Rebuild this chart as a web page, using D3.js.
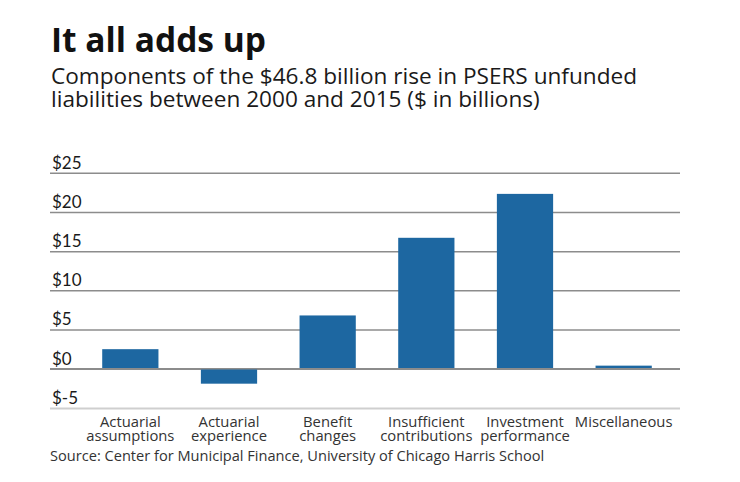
<!DOCTYPE html>
<html>
<head>
<meta charset="utf-8">
<script src="https://cdn.jsdelivr.net/npm/d3@7"></script>
<style>
  body { margin: 0; background: #fff; }
  svg { font-family: "Open Sans", Lato, sans-serif; }
</style>
</head>
<body>
<svg id="chart" width="740" height="482"></svg>
<script>
// data ($ billions)
const categories = [
  ["Actuarial", "assumptions"],
  ["Actuarial", "experience"],
  ["Benefit", "changes"],
  ["Insufficient", "contributions"],
  ["Investment", "performance"],
  ["Miscellaneous"]
];
const values = [2.5, -1.9, 6.8, 16.7, 22.3, 0.4];
const tickValues = [-5, 0, 5, 10, 15, 20, 25];

const svg = d3.select("#chart");
const plotLeft = 50, plotRight = 680, plotTop = 172.7, plotBottom = 408;

let x = d3.scaleBand()
    .domain(d3.range(categories.length))
    .range([81, 673])
    .paddingInner(0.43)
    .paddingOuter(0.215);
let y = d3.scaleLinear().domain([-5, 25]).range([plotBottom, plotTop]);

// titles
svg.append("text")
    .attr("x", 51).attr("y", 52)
    .attr("font-size", 33.5).attr("font-weight", "bold")
    .attr("fill", "#111")
    .text("It all adds up");
let sub = ["Components of the $46.8 billion rise in PSERS unfunded",
           "liabilities between 2000 and 2015 ($ in billions)"];
sub.forEach((s, i) => {
    svg.append("text")
        .attr("x", 51).attr("y", 83.5 + i * 23.5)
        .attr("font-size", 22.6)
        .attr("fill", "#1a1a1a")
        .text(s);
});

// grid + tick labels
let axis = svg.append("g")
    .attr("transform", `translate(${plotLeft},0)`)
    .call(d3.axisLeft(y).tickValues(tickValues).tickSize(-(plotRight - plotLeft)).tickFormat(d => "$" + d));
axis.select(".domain").remove();
axis.selectAll(".tick line")
    .attr("stroke", d => d == -5 ? "#cfcfcf" : "#8c8c8c")
    .attr("stroke-width", d => d == -5 ? 2 : 1.5);
axis.selectAll(".tick text")
    .attr("x", 2).attr("y", 0).attr("dy", -4.7)
    .attr("text-anchor", "start")
    .attr("font-size", 17)
    .attr("font-family", "Lato, 'Open Sans', sans-serif")
    .attr("fill", "#1a1a1a");

// bars
svg.append("g").selectAll("rect")
    .data(values)
    .join("rect")
    .attr("x", (d, i) => x(i))
    .attr("width", x.bandwidth())
    .attr("y", d => y(Math.max(0, d)))
    .attr("height", d => Math.abs(y(d) - y(0)))
    .attr("fill", "#1d67a1");

// zero line on top of bars
svg.append("line")
    .attr("x1", plotLeft).attr("x2", plotRight)
    .attr("y1", y(0)).attr("y2", y(0))
    .attr("stroke", "#8c8c8c").attr("stroke-width", 1.5);

// category labels
categories.forEach((lines, i) => {
    let t = svg.append("text")
        .attr("x", x(i) + x.bandwidth() / 2)
        .attr("y", 426.5)
        .attr("text-anchor", "middle")
        .attr("font-size", 14.8)
        .attr("fill", "#333");
    lines.forEach((l, j) => {
        t.append("tspan")
            .attr("x", x(i) + x.bandwidth() / 2)
            .attr("dy", j == 0 ? 0 : 14.8)
            .text(l);
    });
});

svg.append("text")
    .attr("x", 50).attr("y", 460.5)
    .attr("font-size", 14.6)
    .attr("fill", "#333")
    .text("Source: Center for Municipal Finance, University of Chicago Harris School");
</script>
</body>
</html>
